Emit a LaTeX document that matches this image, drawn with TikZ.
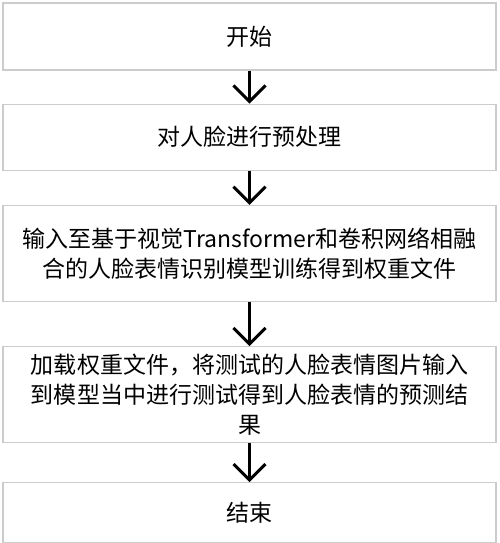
\documentclass[tikz,border=0pt]{standalone}
\usepackage{fontspec}
\setmainfont{Noto Sans CJK SC}
\usetikzlibrary{positioning,arrows.meta}

\begin{document}
\begin{tikzpicture}[x=1pt,y=1pt,
    stepbox/.style={draw=gray!40,line width=1.2pt,minimum width=493pt,
        text width=470pt,align=center,inner sep=0pt,
        font=\fontsize{23}{30}\selectfont},
    flow/.style={-{Straight Barb[length=16pt,width=32pt]},line width=3pt}]
    \useasboundingbox (0,0) rectangle (500,-543);
            \node[stepbox,minimum height=67pt] (1) at (249.5,-36.5) {开始};
            \node[stepbox,minimum height=66pt,below=33pt of 1] (2) {对人脸进行预处理};
            \node[stepbox,minimum height=96pt,below=34pt of 2] (3) {输入至基于视觉Transformer和卷积网络相融\\合的人脸表情识别模型训练得到权重文件};
            \node[stepbox,minimum height=96pt,below=44pt of 3] (4) {加载权重文件，将测试的人脸表情图片输入\\到模型当中进行测试得到人脸表情的预测结\\果};
            \node[stepbox,minimum height=60pt,below=39pt of 4] (5) {结束};

            \draw[flow] (1) -- (2);
            \draw[flow] (2) -- (3);
            \draw[flow] (3) -- (4);
            \draw[flow] (4) -- (5);
        \end{tikzpicture}
\end{document}
